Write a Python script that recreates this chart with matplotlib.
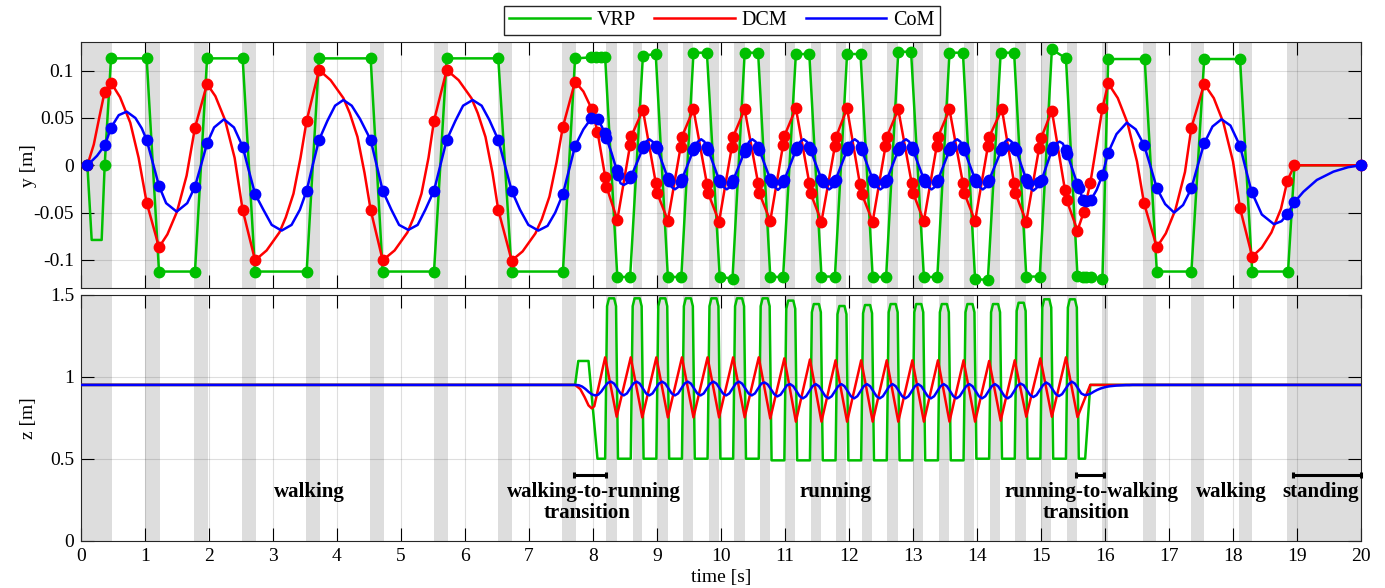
import numpy as np
import matplotlib
matplotlib.use("Agg")
import matplotlib.pyplot as plt

plt.rcParams['font.family'] = ['Liberation Serif', 'DejaVu Serif']
plt.rcParams['axes.unicode_minus'] = False

GREEN = (0.0, 0.75, 0.0)
RED = (1.0, 0.0, 0.0)
BLUE = (0.0, 0.0, 1.0)
AXCOL = '#262626'

# =============================
# gray phase bands [s]
# =============================
band_t0 = [0.0, 1.0, 1.77, 2.52, 3.52, 4.52, 5.52, 6.52, 7.52, 8.21, 8.62, 9.02, 9.41,
           9.81, 10.21, 10.61, 11.01, 11.40, 11.80, 12.20, 12.60, 13.00, 13.40, 13.80,
           14.20, 14.60, 15.00, 15.40, 15.95, 16.60, 17.35, 18.10, 18.85]
band_t1 = [0.48, 1.23, 1.99, 2.73, 3.73, 4.73, 5.73, 6.73, 7.73, 8.37, 8.77, 9.17, 9.56,
           9.97, 10.37, 10.77, 11.16, 11.56, 11.96, 12.36, 12.76, 13.16, 13.56, 13.96,
           14.36, 14.76, 15.16, 15.56, 16.05, 16.80, 17.55, 18.30, 20.0]

# =============================
# top panel: lateral y [m], waypoints (dots) and extra curve points
# =============================
vrp_dots = np.array([
    [0.10, 0.0], [0.37, 0.0], [0.469, 0.113], [1.026, 0.113], [1.219, -0.1123], [1.781, -0.1123],
    [1.97, 0.113], [2.526, 0.113], [2.72, -0.1123], [3.526, -0.1123], [3.719, 0.113], [4.526, 0.113],
    [4.714, -0.1123], [5.516, -0.1123], [5.714, 0.113], [6.52, 0.113], [6.729, -0.1123], [7.53, -0.1123],
    [7.72, 0.113], [7.97, 0.114], [8.04, 0.114], [8.12, 0.114], [8.19, 0.114],
    [8.38, -0.118], [8.58, -0.118], [8.78, 0.1158], [8.98, 0.1176],
    [9.17, -0.118], [9.38, -0.118], [9.57, 0.119], [9.78, 0.119],
    [9.98, -0.118], [10.18, -0.1197], [10.37, 0.119], [10.58, 0.119],
    [10.77, -0.118], [10.97, -0.118], [11.17, 0.1176], [11.38, 0.1176],
    [11.57, -0.1176], [11.78, -0.1176], [11.97, 0.1176], [12.18, 0.1176],
    [12.37, -0.118], [12.58, -0.118], [12.77, 0.12], [12.97, 0.12],
    [13.17, -0.118], [13.38, -0.118], [13.57, 0.119], [13.78, 0.119],
    [13.97, -0.1204], [14.17, -0.121], [14.37, 0.119], [14.58, 0.119],
    [14.77, -0.1176], [14.98, -0.1176], [15.17, 0.1225], [15.39, 0.113],
    [15.57, -0.117], [15.66, -0.1176], [15.71, -0.118], [15.78, -0.118], [15.96, -0.1197],
    [16.05, 0.1123], [16.62, 0.1123], [16.81, -0.1123], [17.35, -0.1123], [17.55, 0.1123],
    [18.11, 0.1123], [18.30, -0.1123], [18.86, -0.1123]])
vrp_extra = np.array([[0.167, -0.0789], [0.323, -0.0789], [18.96, 0.0], [20.0, 0.0]])

dcm_dots = np.array([
    [0.10, 0.0], [0.37, 0.0778], [0.469, 0.0873], [1.026, -0.0394], [1.219, -0.0866],
    [1.781, 0.0398], [1.97, 0.0859], [2.526, -0.0472], [2.72, -0.1004], [3.526, 0.0472],
    [3.719, 0.1007], [4.526, -0.0472], [4.714, -0.1004], [5.516, 0.0472], [5.714, 0.1007],
    [6.52, -0.0472], [6.729, -0.1007], [7.53, 0.0408], [7.72, 0.0884],
    [7.98, 0.0595], [8.07, 0.0356], [8.19, -0.012], [8.21, -0.0225], [8.38, -0.0577],
    [8.58, 0.0215], [8.60, 0.031], [8.78, 0.0585], [8.98, -0.0183], [9.00, -0.0289], [9.17, -0.0585],
    [9.37, 0.0197], [9.39, 0.0303], [9.57, 0.0592], [9.78, -0.0197], [9.80, -0.0296], [9.97, -0.0595],
    [10.17, 0.0197], [10.19, 0.0303], [10.37, 0.0592], [10.58, -0.019], [10.60, -0.0296], [10.77, -0.0588],
    [10.97, 0.0215], [10.99, 0.031], [11.17, 0.0602], [11.38, -0.019], [11.40, -0.0296], [11.57, -0.0595],
    [11.78, 0.0204], [11.80, 0.0303], [11.97, 0.0602], [12.17, -0.0197], [12.20, -0.0303], [12.37, -0.0595],
    [12.57, 0.020], [12.59, 0.030], [12.77, 0.059], [12.98, -0.019], [13.00, -0.029], [13.17, -0.059],
    [13.37, 0.020], [13.39, 0.030], [13.57, 0.059], [13.78, -0.019], [13.80, -0.029], [13.97, -0.059],
    [14.17, 0.020], [14.19, 0.030], [14.39, 0.0592], [14.58, -0.019], [14.60, -0.0296], [14.77, -0.0595],
    [14.97, 0.018], [15.00, 0.0285], [15.17, 0.0577], [15.375, -0.026], [15.40, -0.0366], [15.57, -0.069],
    [15.67, -0.049], [15.77, -0.019], [15.96, 0.0602], [16.05, 0.0866],
    [16.61, -0.0401], [16.81, -0.0866], [17.35, 0.0398], [17.55, 0.0859], [18.11, -0.0454],
    [18.30, -0.0965], [18.85, -0.0162], [18.96, 0.0], [20.0, 0.0]])
dcm_extra = np.array([
    [0.20, 0.022], [0.29, 0.052], [0.61, 0.072], [0.77, 0.045], [0.90, 0.008],
    [1.35, -0.073], [1.50, -0.049], [1.65, -0.011], [2.10, 0.073], [2.25, 0.048], [2.40, 0.008],
    [2.90, -0.090], [3.10, -0.071], [3.20, -0.055], [3.32, -0.030], [3.43, 0.008],
    [3.90, 0.090], [4.10, 0.071], [4.20, 0.055], [4.32, 0.030], [4.43, -0.008],
    [4.90, -0.090], [5.10, -0.071], [5.20, -0.055], [5.32, -0.030], [5.43, 0.008],
    [5.90, 0.090], [6.10, 0.071], [6.20, 0.055], [6.32, 0.030], [6.43, -0.008],
    [6.90, -0.091], [7.10, -0.072], [7.20, -0.057], [7.32, -0.033], [7.43, 0.003], [7.85, 0.078],
    [16.20, 0.071], [16.35, 0.045], [16.50, 0.004], [16.95, -0.072], [17.10, -0.047], [17.25, -0.007],
    [17.70, 0.071], [17.85, 0.045], [18.00, 0.004], [18.45, -0.087], [18.60, -0.071], [18.75, -0.046]])

com_dots = np.array([
    [0.10, 0.0], [0.375, 0.0215], [0.469, 0.0398], [1.026, 0.0268], [1.219, -0.0218],
    [1.781, -0.0225], [1.97, 0.0232], [2.526, 0.0197], [2.72, -0.0303], [3.526, -0.0268],
    [3.719, 0.0268], [4.526, 0.0268], [4.714, -0.0268], [5.516, -0.0268], [5.714, 0.0268],
    [6.52, 0.0268], [6.729, -0.0268], [7.53, -0.0303], [7.72, 0.0204],
    [7.974, 0.0497], [8.08, 0.0486], [8.19, 0.0338], [8.21, 0.0285], [8.37, -0.0049], [8.39, -0.0102],
    [8.58, -0.0137], [8.60, -0.0113], [8.78, 0.018], [8.80, 0.0204], [8.98, 0.0204], [9.00, 0.018],
    [9.17, -0.0137], [9.19, -0.0165], [9.37, -0.0173], [9.39, -0.0148], [9.57, 0.0162], [9.59, 0.0197],
    [9.78, 0.0197], [9.80, 0.0162], [9.97, -0.0155], [9.99, -0.018], [10.17, -0.019], [10.19, -0.016],
    [10.37, 0.0144], [10.39, 0.018], [10.58, 0.0197], [10.60, 0.016], [10.77, -0.0148], [10.79, -0.018],
    [10.97, -0.018], [10.99, -0.0155], [11.17, 0.016], [11.19, 0.019], [11.38, 0.0197], [11.40, 0.016],
    [11.57, -0.0148], [11.59, -0.018], [11.77, -0.018], [11.79, -0.0155], [11.97, 0.016], [11.99, 0.019],
    [12.18, 0.0197], [12.20, 0.016], [12.37, -0.0148], [12.39, -0.018], [12.57, -0.018], [12.59, -0.0155],
    [12.77, 0.016], [12.79, 0.019], [12.98, 0.0197], [13.00, 0.016], [13.17, -0.0148], [13.19, -0.018],
    [13.37, -0.018], [13.39, -0.0155], [13.57, 0.016], [13.59, 0.019], [13.78, 0.0197], [13.80, 0.016],
    [13.97, -0.0148], [13.99, -0.018], [14.17, -0.018], [14.19, -0.0155], [14.38, 0.016], [14.40, 0.019],
    [14.58, 0.0197], [14.61, 0.016], [14.77, -0.0148], [14.79, -0.019], [14.97, -0.018], [15.01, -0.0155],
    [15.17, 0.016], [15.19, 0.019], [15.39, 0.016], [15.41, 0.012], [15.57, -0.0197], [15.59, -0.0243],
    [15.66, -0.0366], [15.71, -0.0373], [15.78, -0.0366], [15.96, -0.0102], [16.05, 0.0134],
    [16.61, 0.0215], [16.81, -0.0243], [17.35, -0.0243], [17.55, 0.0232], [18.11, 0.0204],
    [18.29, -0.0278], [18.85, -0.0514], [18.96, -0.039], [20.0, 0.0]])
com_extra = np.array([
    [0.25, 0.010], [0.59, 0.053], [0.714, 0.0567], [0.85, 0.050], [0.95, 0.039], [1.12, 0.003],
    [1.33, -0.040], [1.495, -0.049], [1.66, -0.040], [1.875, 0.0], [2.08, 0.040], [2.234, 0.0486],
    [2.39, 0.040], [2.62, -0.005], [2.85, -0.047], [2.98, -0.063], [3.135, -0.069], [3.29, -0.063],
    [3.42, -0.047], [3.62, 0.0], [3.85, 0.047], [3.97, 0.063], [4.10, 0.069], [4.23, 0.063],
    [4.36, 0.049], [4.62, 0.0], [4.85, -0.047], [4.97, -0.063], [5.115, -0.0683], [5.26, -0.063],
    [5.38, -0.047], [5.615, 0.0], [5.85, 0.047], [5.97, 0.063], [6.12, 0.069], [6.26, 0.063],
    [6.38, 0.048], [6.625, 0.0], [6.86, -0.047], [6.99, -0.063], [7.146, -0.069], [7.29, -0.064],
    [7.41, -0.050], [7.625, -0.005], [7.85, 0.038], [8.02, 0.0505], [8.29, 0.013],
    [8.43, -0.019], [8.48, -0.0208], [8.53, -0.019],
    [8.83, 0.025], [8.88, 0.0275], [8.93, 0.025], [9.23, -0.023], [9.28, -0.0254], [9.33, -0.023],
    [9.64, 0.025], [9.69, 0.0275], [9.74, 0.025], [10.04, -0.023], [10.09, -0.0254], [10.14, -0.023],
    [10.44, 0.025], [10.49, 0.0275], [10.54, 0.025], [10.84, -0.023], [10.89, -0.026], [10.94, -0.023],
    [11.24, 0.025], [11.29, 0.0275], [11.34, 0.025], [11.64, -0.023], [11.69, -0.0255], [11.74, -0.023],
    [12.04, 0.025], [12.09, 0.0275], [12.14, 0.025], [12.44, -0.023], [12.49, -0.0255], [12.54, -0.023],
    [12.84, 0.025], [12.89, 0.0275], [12.94, 0.025], [13.24, -0.023], [13.29, -0.0255], [13.34, -0.023],
    [13.64, 0.025], [13.69, 0.0275], [13.74, 0.025], [14.04, -0.023], [14.09, -0.0255], [14.14, -0.023],
    [14.44, 0.025], [14.49, 0.0275], [14.54, 0.025], [14.83, -0.024], [14.88, -0.0268], [14.93, -0.024],
    [15.24, 0.023], [15.29, 0.025], [15.34, 0.023], [15.87, -0.026],
    [16.18, 0.033], [16.34, 0.045], [16.48, 0.038], [16.71, -0.001], [16.94, -0.041], [17.08, -0.050],
    [17.22, -0.042], [17.45, 0.0], [17.68, 0.041], [17.82, 0.0486], [17.96, 0.042], [18.20, -0.004],
    [18.45, -0.052], [18.64, -0.0623], [18.76, -0.059], [19.10, -0.028], [19.31, -0.0155],
    [19.57, -0.0067], [19.80, -0.002]])

# =============================
# bottom panel: vertical z [m]
# =============================
vrp_z = np.array([
    [0.0, 0.95], [7.72, 0.95], [7.77, 1.096], [7.93, 1.096], [8.07, 0.50],
    [8.19, 0.50], [8.22, 1.43], [8.25, 1.478], [8.33, 1.478], [8.36, 1.43], [8.39, 0.50],
    [8.59, 0.50], [8.62, 1.43], [8.65, 1.478], [8.73, 1.478], [8.76, 1.43], [8.79, 0.50],
    [8.99, 0.50], [9.02, 1.43], [9.05, 1.478], [9.13, 1.478], [9.16, 1.43], [9.19, 0.50],
    [9.39, 0.50], [9.42, 1.43], [9.45, 1.478], [9.53, 1.478], [9.56, 1.43], [9.59, 0.50],
    [9.79, 0.50], [9.82, 1.43], [9.85, 1.478], [9.93, 1.478], [9.96, 1.43], [9.99, 0.50],
    [10.19, 0.50], [10.22, 1.43], [10.25, 1.478], [10.33, 1.478], [10.36, 1.43], [10.39, 0.50],
    [10.59, 0.50], [10.62, 1.43], [10.65, 1.478], [10.73, 1.478], [10.76, 1.43], [10.79, 0.49],
    [10.99, 0.49], [11.02, 1.414], [11.05, 1.464], [11.13, 1.464], [11.16, 1.414], [11.19, 0.49],
    [11.39, 0.49], [11.42, 1.393], [11.45, 1.443], [11.53, 1.443], [11.56, 1.393], [11.59, 0.49],
    [11.79, 0.49], [11.82, 1.381], [11.85, 1.431], [11.93, 1.431], [11.96, 1.381], [11.99, 0.49],
    [12.19, 0.49], [12.22, 1.387], [12.25, 1.437], [12.33, 1.437], [12.36, 1.387], [12.39, 0.49],
    [12.59, 0.49], [12.62, 1.393], [12.65, 1.443], [12.73, 1.443], [12.76, 1.393], [12.79, 0.49],
    [12.99, 0.49], [13.02, 1.393], [13.05, 1.443], [13.13, 1.443], [13.16, 1.393], [13.19, 0.49],
    [13.39, 0.49], [13.42, 1.393], [13.45, 1.443], [13.53, 1.443], [13.56, 1.393], [13.59, 0.49],
    [13.79, 0.49], [13.82, 1.393], [13.85, 1.443], [13.93, 1.443], [13.96, 1.393], [13.99, 0.50],
    [14.19, 0.50], [14.22, 1.393], [14.25, 1.443], [14.33, 1.443], [14.36, 1.393], [14.39, 0.50],
    [14.59, 0.50], [14.62, 1.401], [14.65, 1.451], [14.73, 1.451], [14.76, 1.401], [14.79, 0.50],
    [14.99, 0.50], [15.02, 1.422], [15.05, 1.472], [15.13, 1.472], [15.16, 1.422], [15.19, 0.50],
    [15.39, 0.50], [15.42, 1.422], [15.45, 1.472], [15.53, 1.472], [15.56, 1.422], [15.59, 0.50],
    [15.69, 0.50], [15.77, 0.95], [20.0, 0.95]])

dcm_z = np.array([
    [0.0, 0.95], [7.72, 0.95], [7.80, 0.925], [7.87, 0.875], [7.93, 0.825], [7.98, 0.807], [8.02, 0.82],
    [8.19, 1.118], [8.37, 0.756], [8.59, 1.118], [8.77, 0.752], [8.99, 1.118], [9.17, 0.752],
    [9.39, 1.118], [9.57, 0.752], [9.79, 1.118], [9.97, 0.752], [10.19, 1.118], [10.37, 0.752],
    [10.59, 1.118], [10.77, 0.745], [10.99, 1.112], [11.17, 0.726], [11.39, 1.105], [11.57, 0.726],
    [11.79, 1.10], [11.97, 0.726], [12.19, 1.10], [12.37, 0.726], [12.59, 1.10], [12.77, 0.726],
    [12.99, 1.10], [13.17, 0.726], [13.39, 1.10], [13.57, 0.726], [13.79, 1.10], [13.97, 0.726],
    [14.19, 1.096], [14.37, 0.732], [14.59, 1.10], [14.77, 0.756], [14.99, 1.112], [15.17, 0.756],
    [15.39, 1.118], [15.57, 0.754], [15.77, 0.95], [20.0, 0.95]])

# CoM height sampled every 0.05 s from 7.73 s to 16.48 s (flat 0.95 outside)
com_z_run = [
    0.950, 0.948, 0.940, 0.926, 0.908, 0.893, 0.886, 0.890, 0.910, 0.938, 0.962,
    0.970, 0.958, 0.928, 0.898, 0.886, 0.898, 0.928, 0.958,
    0.970, 0.958, 0.928, 0.898, 0.886, 0.898, 0.928, 0.958,
    0.970, 0.958, 0.928, 0.898, 0.886, 0.898, 0.928, 0.958,
    0.970, 0.958, 0.928, 0.898, 0.886, 0.898, 0.928, 0.958,
    0.970, 0.958, 0.928, 0.898, 0.886, 0.898, 0.928, 0.958,
    0.970, 0.958, 0.928, 0.898, 0.886, 0.898, 0.928, 0.958,
    0.965, 0.953, 0.924, 0.894, 0.880, 0.890, 0.918, 0.948,
    0.955, 0.942, 0.912, 0.881, 0.868, 0.881, 0.912, 0.942,
    0.955, 0.942, 0.912, 0.881, 0.868, 0.881, 0.912, 0.942,
    0.955, 0.942, 0.912, 0.881, 0.868, 0.881, 0.912, 0.942,
    0.955, 0.942, 0.912, 0.881, 0.868, 0.881, 0.912, 0.942,
    0.955, 0.942, 0.912, 0.881, 0.868, 0.881, 0.912, 0.942,
    0.955, 0.942, 0.912, 0.881, 0.868, 0.881, 0.912, 0.942,
    0.955, 0.942, 0.912, 0.881, 0.868, 0.881, 0.912, 0.942,
    0.955, 0.942, 0.912, 0.881, 0.868, 0.881, 0.912, 0.942,
    0.955, 0.942, 0.912, 0.881, 0.868, 0.881, 0.912, 0.945,
    0.958, 0.948, 0.918, 0.888, 0.876, 0.888, 0.918, 0.948,
    0.965, 0.953, 0.924, 0.894, 0.882, 0.894, 0.924, 0.953,
    0.970, 0.958, 0.928, 0.898, 0.888,
    0.890, 0.898, 0.910, 0.920, 0.928, 0.934, 0.939, 0.942, 0.944, 0.946, 0.947, 0.948,
    0.949, 0.949, 0.950, 0.950]
com_z_t = np.round(7.73 + 0.05 * np.arange(len(com_z_run)), 2)

# phase annotations
phase_labels = ["walking", "walking-to-running", "transition", "running",
                "running-to-walking", "transition", "walking", "standing"]
phase_x = [3.57, 8.01, 7.91, 11.79, 15.79, 15.70, 17.98, 19.37]
phase_z = [0.297, 0.297, 0.169, 0.297, 0.297, 0.169, 0.297, 0.297]
bar_t0 = [7.71, 15.55, 18.94]
bar_t1 = [8.21, 15.98, 20.0]


def curve(dots, extra):
    pts = np.vstack([dots, extra])
    pts = pts[np.argsort(pts[:, 0], kind='stable')]
    return pts[:, 0], pts[:, 1]


fig = plt.figure(figsize=(13.85, 5.88), dpi=100)
ax1 = fig.add_axes([0.05848, 0.5097, 0.92419, 0.4184])
ax2 = fig.add_axes([0.05848, 0.0804, 0.92419, 0.4184])

LW = 1.8
MS = 7.5

for ax in (ax1, ax2):
    for a, b in zip(band_t0, band_t1):
        ax.axvspan(a, b, color='#dddddd', lw=0, zorder=1)
    ax.set_xlim(0, 20)
    ax.set_xticks(range(0, 21))
    ax.set_axisbelow('line')
    ax.grid(True, color=AXCOL, alpha=0.15, lw=0.8)
    ax.tick_params(direction='in', length=9.2, width=0.8, top=True, right=True,
                   labelsize=14, pad=5, colors='black')
    for s in ax.spines.values():
        s.set_color(AXCOL)
        s.set_linewidth(0.8)

# ---- top panel
lines = []
for dots, extra, col, name in [(vrp_dots, vrp_extra, GREEN, 'VRP'),
                               (dcm_dots, dcm_extra, RED, 'DCM'),
                               (com_dots, com_extra, BLUE, 'CoM')]:
    t, y = curve(dots, extra)
    ln, = ax1.plot(t, y, color=col, lw=LW, zorder=3, label=name)
    ax1.plot(dots[:, 0], dots[:, 1], 'o', color=col, ms=MS, zorder=3, clip_on=False)
    lines.append(ln)

ax1.set_ylim(-0.13, 0.13)
ax1.set_yticks([-0.1, -0.05, 0, 0.05, 0.1])
ax1.set_yticklabels(['-0.1', '-0.05', '0', '0.05', '0.1'])
ax1.tick_params(labelbottom=False)
ax1.set_ylabel('y [m]', fontsize=14)
ax1.yaxis.set_label_coords(-0.034, 0.5)

# ---- bottom panel
ax2.plot(vrp_z[:, 0], vrp_z[:, 1], color=GREEN, lw=LW, zorder=3)
ax2.plot(dcm_z[:, 0], dcm_z[:, 1], color=RED, lw=LW, zorder=3)
com_t = np.concatenate([[0.0], com_z_t, [20.0]])
com_v = np.concatenate([[0.95], com_z_run, [0.95]])
ax2.plot(com_t, com_v, color=BLUE, lw=LW, zorder=3)

ax2.set_ylim(0, 1.5)
ax2.set_yticks([0, 0.5, 1, 1.5])
ax2.set_yticklabels(['0', '0.5', '1', '1.5'])
ax2.set_ylabel('z [m]', fontsize=14)
ax2.yaxis.set_label_coords(-0.034, 0.5)
ax2.set_xlabel('time [s]', fontsize=14)
ax2.xaxis.set_label_coords(0.5, -0.113)

for txt, x, z in zip(phase_labels, phase_x, phase_z):
    ax2.text(x, z, txt, ha='center', va='center', fontsize=15, fontweight='bold', zorder=5)
for a, b in zip(bar_t0, bar_t1):
    ax2.plot([a, b], [0.40, 0.40], color='black', lw=2.2, zorder=5, clip_on=False,
             solid_capstyle='butt')
    ax2.plot([a, b], [0.40, 0.40], '|', color='black', ms=5, mew=2.2, zorder=5, clip_on=False)

fig.legend(handles=lines, labels=['VRP', 'DCM', 'CoM'], loc='upper center',
           bbox_to_anchor=(722 / 1385, 1 - 6 / 588), ncol=3, frameon=True,
           fancybox=False, edgecolor=AXCOL, framealpha=1, handlelength=4.0,
           handletextpad=0.35, columnspacing=0.9, fontsize=14.5, borderpad=0.25,
           borderaxespad=0.0)

fig.savefig('out.png', dpi=100)
